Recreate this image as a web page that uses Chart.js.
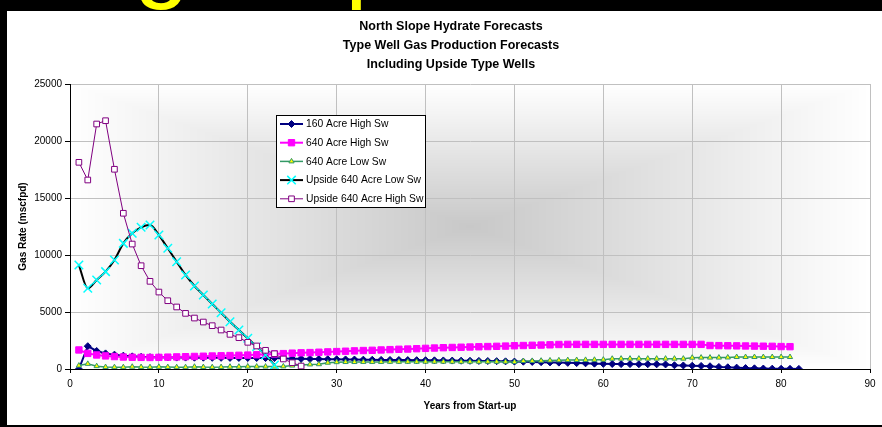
<!DOCTYPE html>
<html>
<head>
<meta charset="utf-8">
<title>North Slope Hydrate Forecasts</title>
<style>
  html, body { margin: 0; padding: 0; background: #000; overflow: hidden; }
  #wrap { position: absolute; left: 0; top: 0; width: 882px; height: 427px; }
</style>
<script src="https://cdn.jsdelivr.net/npm/chart.js@4.4.0/dist/chart.umd.min.js"></script>
</head>
<body>
<div id="wrap"><canvas id="chart" width="882" height="427"></canvas></div>
<script>
// Years from start-up (x values)
const years = [1,2,3,4,5,6,7,8,9,10,11,12,13,14,15,16,17,18,19,20,
  21,22,23,24,25,26,27,28,29,30,31,32,33,34,35,36,37,38,39,40,
  41,42,43,44,45,46,47,48,49,50,51,52,53,54,55,56,57,58,59,60,
  61,62,63,64,65,66,67,68,69,70,71,72,73,74,75,76,77,78,79,80,81,82];

// Gas rate, mscfpd
const acre160HighSw = [0,2000,1580,1370,1260,1170,1110,1070,1040,1020,
  1010,1000,1000,990,990,980,980,975,970,970,
  965,960,955,930,900,890,880,870,860,850,
  840,830,820,810,800,795,790,780,775,770,
  760,750,740,730,720,710,700,690,670,650,
  640,620,600,580,560,540,520,500,470,450,
  440,430,430,420,420,410,400,330,310,290,
  270,240,180,150,120,80,60,40,30,20,15,10];

const acre640HighSw = [1670,1370,1230,1150,1090,1050,1030,1020,1010,1020,
  1040,1060,1080,1100,1120,1140,1160,1180,1200,1220,
  1250,1290,1320,1350,1390,1420,1440,1470,1500,1530,
  1560,1590,1620,1640,1670,1700,1730,1750,1780,1810,
  1840,1870,1890,1910,1930,1950,1970,1990,2010,2040,
  2060,2080,2100,2120,2150,2160,2160,2160,2160,2160,
  2160,2160,2160,2160,2160,2160,2160,2160,2160,2160,
  2160,2060,2050,2040,2030,2020,2010,2000,1990,1970,1960];

const acre640LowSw = [300,450,250,170,160,160,200,170,160,190,
  170,160,160,200,170,160,170,200,200,210,
  210,210,210,230,300,350,400,420,550,600,
  610,610,620,620,620,630,630,630,630,640,
  640,640,640,640,640,640,640,640,640,620,
  700,710,730,750,760,780,790,800,810,820,
  900,910,910,910,910,910,910,910,910,990,
  1000,1000,1000,1010,1050,1050,1050,1050,1050,1050,1050];

const upside640LowSw = [9120,7080,7810,8540,9560,11020,11900,12430,12630,11750,
  10590,9410,8250,7280,6490,5700,4940,4150,3420,2690,1960,1230,350];

const upside640HighSw = [18130,16580,21490,21780,17520,13660,10960,9060,7690,6750,
  5990,5440,4880,4470,4120,3800,3420,3040,2750,2340,2020,1640,1340,880,550,260];

const seriesNames = ['160 Acre High Sw', '640 Acre High Sw', '640 Acre Low Sw',
  'Upside 640 Acre Low Sw', 'Upside 640 Acre High Sw'];

const xTicks = [0,10,20,30,40,50,60,70,80,90];
const yTicks = [0,5000,10000,15000,20000,25000];

const titleLines = ['North Slope Hydrate Forecasts', 'Type Well Gas Production Forecasts', 'Including Upside Type Wells'];
const headline = 'Producing Deposits';

const FAMILY = 'Arial, "Liberation Sans", sans-serif';

const pts = (vals) => vals.map((v, i) => ({ x: years[i], y: v }));

// Page sheet, headline strip and the "from centre" shaded plot background
const backdrop = {
  id: 'backdrop',
  beforeDraw(chart) {
    const { ctx, chartArea: a } = chart;
    ctx.save();
    ctx.fillStyle = '#000';
    ctx.fillRect(0, 0, chart.width, chart.height);

    ctx.fillStyle = '#ffff00';
    ctx.font = '100px ' + FAMILY;
    ctx.textBaseline = 'alphabetic';
    const pre = ctx.measureText('Producin').width;
    ctx.fillText(headline, 134 - pre, -11);

    ctx.fillStyle = '#fff';
    ctx.fillRect(7, 11, chart.width - 7, 414);

    const x0 = Math.round(a.left), y0 = Math.round(a.top);
    const w = Math.round(a.right) - x0, h = Math.round(a.bottom) - y0;
    const img = ctx.createImageData(w, h);
    const cx = w / 2, cy = h / 2, centre = 200;
    for (let j = 0; j < h; j++) {
      for (let i = 0; i < w; i++) {
        const t = Math.min(1, Math.max(Math.abs(i + 0.5 - cx) / cx, Math.abs(j + 0.5 - cy) / cy));
        const c = Math.round(centre + (255 - centre) * t);
        const k = (j * w + i) * 4;
        img.data[k] = c; img.data[k + 1] = c; img.data[k + 2] = c; img.data[k + 3] = 255;
      }
    }
    ctx.putImageData(img, x0, y0);
    ctx.restore();
  },
  afterDraw(chart) {
    const { ctx } = chart;
    ctx.save();
    // Titles
    ctx.fillStyle = '#000';
    ctx.font = 'bold 12.5px ' + FAMILY;
    ctx.textAlign = 'center';
    ctx.textBaseline = 'alphabetic';
    const base = [30, 49, 68];
    titleLines.forEach((t, i) => ctx.fillText(t, 451, base[i]));

    // Legend box
    const bx = 276.5, by = 115.5, bw = 149, bh = 92;
    ctx.fillStyle = '#fff';
    ctx.fillRect(bx, by, bw, bh);
    ctx.strokeStyle = '#000';
    ctx.lineWidth = 1;
    ctx.strokeRect(bx, by, bw, bh);
    ctx.textAlign = 'left';
    ctx.textBaseline = 'middle';
    ctx.font = '10.3px ' + FAMILY;
    chart.data.datasets.forEach((ds, i) => {
      const y = 124 + i * 18.7;
      ctx.strokeStyle = ds.borderColor;
      ctx.lineWidth = ds.borderWidth;
      ctx.beginPath();
      ctx.moveTo(280, y);
      ctx.lineTo(303, y);
      ctx.stroke();
      ctx.fillStyle = ds.pointBackgroundColor;
      ctx.strokeStyle = ds.pointBorderColor;
      ctx.lineWidth = ds.pointBorderWidth;
      Chart.helpers.drawPoint(ctx, {
        pointStyle: ds.pointStyle, radius: ds.pointRadius, rotation: 0, borderWidth: ds.pointBorderWidth
      }, 291.5, y);
      ctx.fillStyle = '#000';
      ctx.fillText(ds.label, 306, y + 0.5);
    });
    ctx.restore();
  }
};

const datasets = [
  { label: seriesNames[0], data: pts(acre160HighSw), borderColor: '#000080', borderWidth: 2,
    pointStyle: 'rectRot', pointRadius: 3.5, pointBackgroundColor: '#000080', pointBorderColor: '#000080',
    pointBorderWidth: 1, order: 4 },
  { label: seriesNames[1], data: pts(acre640HighSw), borderColor: '#ff00ff', borderWidth: 2,
    pointStyle: 'rect', pointRadius: 4.5, pointBackgroundColor: '#ff00ff', pointBorderColor: '#ff00ff',
    pointBorderWidth: 1, order: 3 },
  { label: seriesNames[2], data: pts(acre640LowSw), borderColor: '#339966', borderWidth: 1.5,
    pointStyle: 'triangle', pointRadius: 3, pointBackgroundColor: '#ffff00', pointBorderColor: '#339966',
    pointBorderWidth: 1, order: 2 },
  { label: seriesNames[3], data: pts(upside640LowSw), borderColor: '#000000', borderWidth: 2,
    cubicInterpolationMode: 'monotone',
    pointStyle: 'crossRot', pointRadius: 6, pointBackgroundColor: '#00ffff', pointBorderColor: '#00ffff',
    pointBorderWidth: 1.5, order: 1 },
  { label: seriesNames[4], data: pts(upside640HighSw), borderColor: '#800080', borderWidth: 1,
    pointStyle: 'rect', pointRadius: 4, pointBackgroundColor: '#ffffff', pointBorderColor: '#800080',
    pointBorderWidth: 1, order: 0 }
];

new Chart(document.getElementById('chart'), {
  type: 'line',
  data: { datasets },
  plugins: [backdrop],
  options: {
    responsive: false,
    animation: false,
    devicePixelRatio: 1,
    layout: { padding: { top: 84, right: 12, left: 0, bottom: 0 } },
    plugins: { legend: { display: false }, title: { display: false }, tooltip: { enabled: false } },
    elements: { line: { tension: 0 }, point: { hoverRadius: 0 } },
    scales: {
      x: {
        type: 'linear', min: 0, max: 90,
        afterBuildTicks: (s) => { s.ticks = xTicks.map(v => ({ value: v })); },
        afterFit: (s) => { s.height = 58; },
        ticks: { color: '#000', font: { family: FAMILY, size: 10 }, padding: 5, maxRotation: 0, autoSkip: false,
          callback: (v) => String(v) },
        grid: { color: '#c0c0c0', lineWidth: 1, tickColor: '#000', tickLength: 4, drawTicks: true },
        border: { display: true, color: '#000', width: 1 },
        title: { display: true, text: 'Years from Start-up', color: '#000',
          font: { family: FAMILY, size: 10, weight: 'bold' }, padding: { top: 0, bottom: 15 } }
      },
      y: {
        type: 'linear', min: 0, max: 25000,
        afterBuildTicks: (s) => { s.ticks = yTicks.map(v => ({ value: v })); },
        afterFit: (s) => { s.width = 70; },
        ticks: { color: '#000', font: { family: FAMILY, size: 10 }, padding: 3, autoSkip: false,
          callback: (v) => String(v) },
        grid: { color: '#c0c0c0', lineWidth: 1, tickColor: '#000', tickLength: 5, drawTicks: true },
        border: { display: true, color: '#000', width: 1 },
        title: { display: true, text: 'Gas Rate (mscfpd)', color: '#000',
          font: { family: FAMILY, size: 10, weight: 'bold' }, padding: { top: 17, bottom: 0 } }
      }
    }
  }
});
</script>
</body>
</html>
